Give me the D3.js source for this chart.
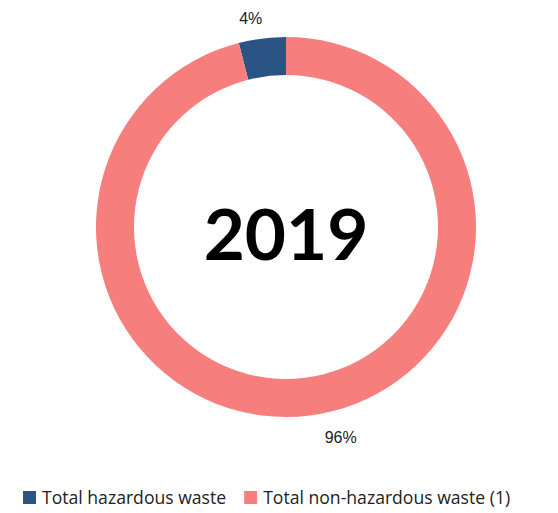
<!DOCTYPE html>
<html><head><meta charset="utf-8">
<script src="https://cdn.jsdelivr.net/npm/d3@7"></script>
<style>
html,body{margin:0;padding:0;background:#fff;}
svg{display:block;}
</style></head>
<body>
<svg id="chart" width="558" height="513"></svg>
<script>
const categories = ["Total hazardous waste", "Total non-hazardous waste (1)"];
const values = [4, 96];
const labels = ["4%", "96%"];
const colors = ["#2a5484", "#f67f7d"];
const centerTitle = "2019";

const svg = d3.select("#chart");
const cx = 286, cy = 227, outerR = 190, innerR = 152;
const total = d3.sum(values);
const start = -2 * Math.PI * values[0] / total;

const pie = d3.pie().sort(null).value(d => d).startAngle(start).endAngle(start + 2 * Math.PI);
const arcs = pie(values);
const arc = d3.arc().innerRadius(innerR).outerRadius(outerR);
const g = svg.append("g").attr("transform", `translate(${cx},${cy})`);

g.selectAll("path").data(arcs).join("path")
  .attr("d", arc)
  .attr("fill", (d, i) => colors[i]);

const labelR = 205;
g.selectAll("text.lbl").data(arcs).join("text")
  .attr("class", "lbl")
  .each(function(d, i) {
    const a = (d.startAngle + d.endAngle) / 2;
    const x = Math.sin(a) * labelR, y = -Math.cos(a) * labelR;
    const right = x >= 0;
    d3.select(this)
      .attr("x", right ? x + 13 : x + 2)
      .attr("y", y >= 0 ? y + 13 : y)
      .attr("text-anchor", right ? "start" : "end")
      .text(labels[i]);
  })
  .attr("font-family", "Liberation Sans, Arial, sans-serif")
  .attr("font-size", 16)
  .attr("fill", "#222");

g.append("text")
  .attr("x", 0).attr("y", 8)
  .attr("dy", "0.35em")
  .attr("text-anchor", "middle")
  .attr("font-family", "Lato, sans-serif")
  .attr("font-weight", "bold")
  .attr("font-size", 71)
  .attr("fill", "#000")
  .text(centerTitle);

// legend
const legend = svg.append("g").attr("transform", "translate(23,491)");
const sw = 13;
let xoff = 0;
categories.forEach((c, i) => {
  const item = legend.append("g").attr("transform", `translate(${xoff},0)`);
  item.append("rect").attr("width", sw).attr("height", sw).attr("fill", colors[i]);
  const t = item.append("text").attr("x", sw + 6).attr("y", sw - 0.5)
    .attr("font-family", "'Open Sans', sans-serif").attr("font-size", 17.6).attr("fill", "#222")
    .text(c);
  xoff += sw + 6 + t.node().getComputedTextLength() + 18;
});
</script>
</body></html>
